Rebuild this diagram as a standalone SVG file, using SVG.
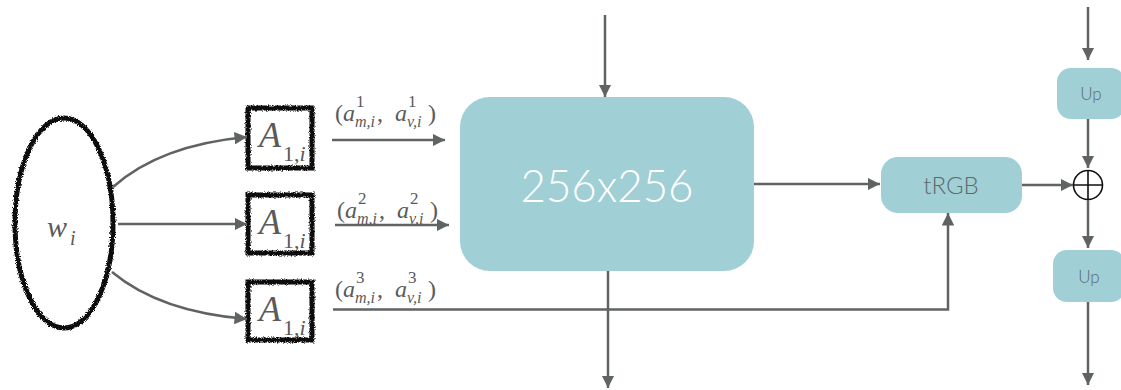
<svg xmlns="http://www.w3.org/2000/svg" width="1121" height="390" viewBox="0 0 1121 390">
  <style>
    .wire { fill: none; stroke: #5f6362; stroke-width: 2.5; }
    .blk { fill: #a0cfd6; }
    .sketch { fill: none; stroke: #0a0a0a; stroke-width: 5; filter: url(#rough); }
    text.m { font-family: 'Liberation Serif', 'Times New Roman', serif; fill: #5a5a5a; }
    text.i { font-style: italic; }
    text.lbl { font-family: Lato, 'Open Sans', sans-serif; font-weight: 300; }
  </style>
  <defs>
    <marker id="arr" viewBox="0 0 10 10" refX="10" refY="5" markerWidth="5" markerHeight="5" orient="auto" markerUnits="strokeWidth">
      <path d="M0,0 L10,5 L0,10 z" fill="#5f6362"/>
    </marker>
    <filter id="rough" x="-10%" y="-10%" width="120%" height="120%">
      <feTurbulence type="fractalNoise" baseFrequency="1.2" numOctaves="2" seed="3" result="n"/>
      <feDisplacementMap in="SourceGraphic" in2="n" scale="4" xChannelSelector="R" yChannelSelector="G"/>
    </filter>
  </defs>

  <!-- latent input -->
  <g id="node-w">
    <ellipse class="sketch" cx="64" cy="223" rx="49" ry="105"/>
    <text class="m i" x="47" y="237" font-size="30">w</text>
    <text class="m i" x="70" y="245" font-size="20">i</text>
  </g>

  <!-- affine blocks -->
  <g id="node-A1">
    <rect class="sketch" x="248" y="108" width="64" height="60"/>
    <text class="m i" x="259" y="147" font-size="36">A</text>
    <text class="m" x="283" y="161" font-size="22">1,<tspan font-style="italic">i</tspan></text>
  </g>
  <g id="node-A2">
    <rect class="sketch" x="248" y="195" width="64" height="58"/>
    <text class="m i" x="259" y="234" font-size="36">A</text>
    <text class="m" x="283" y="248" font-size="22">1,<tspan font-style="italic">i</tspan></text>
  </g>
  <g id="node-A3">
    <rect class="sketch" x="248" y="282" width="64" height="58"/>
    <text class="m i" x="259" y="321" font-size="36">A</text>
    <text class="m" x="283" y="335" font-size="22">1,<tspan font-style="italic">i</tspan></text>
  </g>

  <!-- style parameter labels -->
  <g id="labels">
    <g>
      <text class="m" x="335" y="121" font-size="24">(</text>
      <text class="m i" x="343" y="121" font-size="24">a</text>
      <text class="m" x="356" y="107" font-size="17">1</text>
      <text class="m i" x="355" y="127" font-size="16">m,i</text>
      <text class="m" x="377" y="121" font-size="24">,</text>
      <text class="m i" x="395" y="121" font-size="24">a</text>
      <text class="m" x="408" y="107" font-size="17">1</text>
      <text class="m i" x="407" y="127" font-size="16">v,i</text>
      <text class="m" x="428" y="121" font-size="24">)</text>
    </g>
    <g transform="translate(2,97)">
      <text class="m" x="335" y="121" font-size="24">(</text>
      <text class="m i" x="343" y="121" font-size="24">a</text>
      <text class="m" x="356" y="107" font-size="17">2</text>
      <text class="m i" x="355" y="127" font-size="16">m,i</text>
      <text class="m" x="377" y="121" font-size="24">,</text>
      <text class="m i" x="395" y="121" font-size="24">a</text>
      <text class="m" x="408" y="107" font-size="17">2</text>
      <text class="m i" x="407" y="127" font-size="16">v,i</text>
      <text class="m" x="428" y="121" font-size="24">)</text>
    </g>
    <g transform="translate(0,176)">
      <text class="m" x="335" y="121" font-size="24">(</text>
      <text class="m i" x="343" y="121" font-size="24">a</text>
      <text class="m" x="356" y="107" font-size="17">3</text>
      <text class="m i" x="355" y="127" font-size="16">m,i</text>
      <text class="m" x="377" y="121" font-size="24">,</text>
      <text class="m i" x="395" y="121" font-size="24">a</text>
      <text class="m" x="408" y="107" font-size="17">3</text>
      <text class="m i" x="407" y="127" font-size="16">v,i</text>
      <text class="m" x="428" y="121" font-size="24">)</text>
    </g>
  </g>

  <!-- synthesis block -->
  <g id="node-main">
    <rect class="blk" x="460" y="97" width="294" height="174" rx="30"/>
    <text class="lbl" x="607" y="202" font-size="46" fill="#ffffff" text-anchor="middle" textLength="173" lengthAdjust="spacingAndGlyphs">256x256</text>
  </g>

  <g id="node-trgb">
    <rect class="blk" x="881" y="157" width="141" height="56" rx="17"/>
    <text class="lbl" x="951" y="194" font-size="24" fill="#5d6a6d" text-anchor="middle">tRGB</text>
  </g>

  <g id="node-up1">
    <rect class="blk" x="1057" y="68" width="68" height="51" rx="14"/>
    <text class="lbl" x="1091" y="100" font-size="17" fill="#5d6a6d" text-anchor="middle">Up</text>
  </g>
  <g id="node-up2">
    <rect class="blk" x="1053" y="250" width="72" height="52" rx="14"/>
    <text class="lbl" x="1089" y="283" font-size="17" fill="#5d6a6d" text-anchor="middle">Up</text>
  </g>

  <g id="node-sum">
    <circle cx="1088" cy="185" r="14.5" fill="#ffffff" stroke="#111" stroke-width="1.6"/>
    <path d="M1073.5,185 H1102.5 M1088,170.5 V199.5" stroke="#111" stroke-width="1.6"/>
  </g>

  <!-- connectors -->
  <g id="connectors">
    <path class="wire" marker-end="url(#arr)" d="M113,187 Q160,145 247,137"/>
    <path class="wire" marker-end="url(#arr)" d="M118,224 H247"/>
    <path class="wire" marker-end="url(#arr)" d="M112,272 Q160,312 247,319"/>

    <path class="wire" marker-end="url(#arr)" d="M332,140 H445"/>
    <path class="wire" marker-end="url(#arr)" d="M335,225 H449"/>
    <path class="wire" marker-end="url(#arr)" d="M333,309.5 H948 V213"/>

    <path class="wire" marker-end="url(#arr)" d="M605,15 V97"/>
    <path class="wire" marker-end="url(#arr)" d="M608,271 V388"/>
    <path class="wire" marker-end="url(#arr)" d="M754,184 H880"/>
    <path class="wire" marker-end="url(#arr)" d="M1022,185 H1073"/>

    <path class="wire" marker-end="url(#arr)" d="M1088,7 V60"/>
    <path class="wire" marker-end="url(#arr)" d="M1088,119 V168"/>
    <path class="wire" marker-end="url(#arr)" d="M1088,200 V248"/>
    <path class="wire" marker-end="url(#arr)" d="M1088,302 V385"/>
  </g>
</svg>
